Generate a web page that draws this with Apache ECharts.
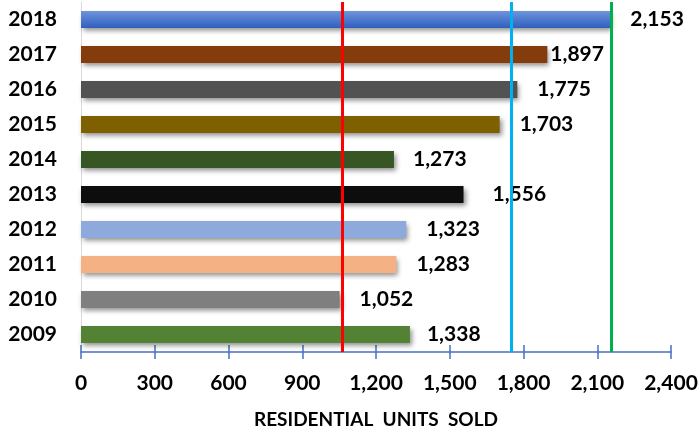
<!DOCTYPE html>
<html>
<head>
<meta charset="utf-8">
<script src="https://cdn.jsdelivr.net/npm/echarts@6/dist/echarts.min.js"></script>
<style>
  html, body { margin: 0; padding: 0; background: #fff; }
  #chart { width: 700px; height: 432px; }
</style>
</head>
<body>
<div id="chart"></div>
<script>
// data, bottom to top
const years = ['2009', '2010', '2011', '2012', '2013', '2014', '2015', '2016', '2017', '2018'];
const unitsSold = [1338, 1052, 1283, 1323, 1556, 1273, 1703, 1775, 1897, 2153];
const refLines = [1062, 1749, 2157];
const xTicks = [0, 300, 600, 900, 1200, 1500, 1800, 2100, 2400];

const barColors = [
  '#548235', '#7F7F7F', '#F4B183', '#8EA9DB', '#0D0D0D',
  '#375623', '#7F6000', '#525252', '#843C0C',
  new echarts.graphic.LinearGradient(0, 0, 0, 1, [
    { offset: 0, color: '#6F94DA' },
    { offset: 1, color: '#2F5FBE' },
  ]),
];
const labelGaps = [17, 20, 20, 20, 29, 19, 20, 20, 3, 20];
const refColors = ['#FF0000', '#00B0F0', '#00B050'];
const font = 'Lato';

const chart = echarts.init(document.getElementById('chart'));

const fmt = (v) => v.toLocaleString('en-US');

chart.setOption({
  animation: false,
  grid: { left: 81, right: 29, top: 2, bottom: 80, containLabel: false, outerBoundsMode: 'none' },
  xAxis: [
    {
      type: 'value',
      min: xTicks[0],
      max: xTicks[xTicks.length - 1],
      interval: 300,
      name: 'RESIDENTIAL  UNITS  SOLD',
      nameLocation: 'middle',
      nameGap: 58,
      nameTextStyle: { fontFamily: font, fontWeight: 'bold', fontSize: 19, color: '#000' },
      axisLine: { show: true, lineStyle: { color: '#4472C4', width: 1.5 } },
      axisTick: { show: true, length: 7, lineStyle: { color: '#4472C4', width: 1.5 } },
      axisLabel: {
        margin: 21,
        fontFamily: font,
        fontWeight: 'bold',
        fontSize: 21,
        color: '#000',
        formatter: (v) => fmt(v),
      },
      splitLine: { show: false },
    },
    {
      type: 'value',
      position: 'bottom',
      min: xTicks[0],
      max: xTicks[xTicks.length - 1],
      interval: 300,
      axisLine: { show: false },
      axisTick: { show: true, inside: true, length: 7, lineStyle: { color: '#4472C4', width: 1.5 } },
      axisLabel: { show: false },
      splitLine: { show: false },
    },
  ],
  yAxis: {
    type: 'category',
    data: years,
    axisLine: { show: true, lineStyle: { color: '#D9D9D9', width: 1 } },
    axisTick: { show: false },
    axisLabel: {
      margin: 24,
      fontFamily: font,
      fontWeight: 'bold',
      fontSize: 21,
      color: '#000',
    },
  },
  series: [
    {
      type: 'bar',
      barWidth: '49%',
      data: unitsSold.map((v, i) => ({
        value: v,
        itemStyle: {
          color: barColors[i],
          shadowColor: 'rgba(0,0,0,0.45)',
          shadowBlur: 5,
          shadowOffsetX: 2,
          shadowOffsetY: 3,
        },
        label: { distance: labelGaps[i] },
      })),
      label: {
        show: true,
        position: 'right',
        fontFamily: font,
        fontWeight: 'bold',
        fontSize: 21,
        color: '#000',
        formatter: (p) => fmt(p.value),
      },
      markLine: {
        silent: true,
        symbol: 'none',
        label: { show: false },
        data: refLines.map((v, i) => ({
          xAxis: v,
          lineStyle: { color: refColors[i], width: 3, type: 'solid' },
        })),
      },
    },
  ],
});
</script>
</body>
</html>
